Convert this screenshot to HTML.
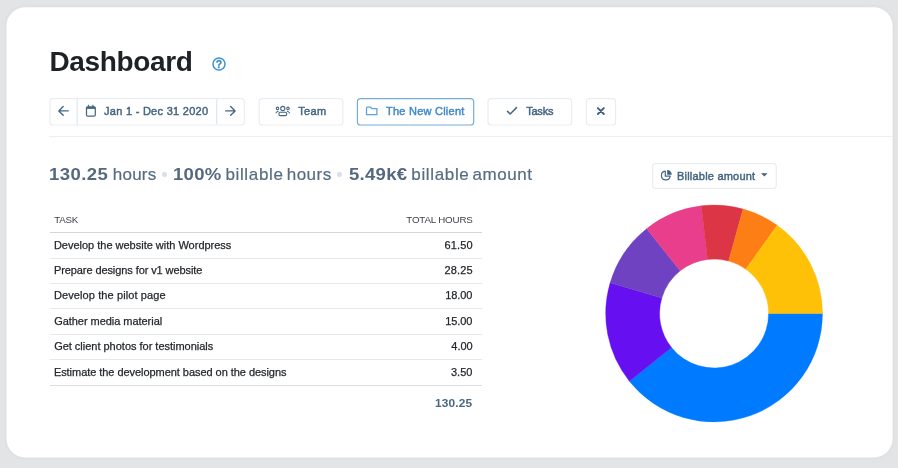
<!DOCTYPE html>
<html><head><meta charset="utf-8"><title>Dashboard</title>
<style>
*{box-sizing:border-box;margin:0;padding:0}
html,body{width:898px;height:468px;overflow:hidden}
body{background:#e3e4e6;font-family:"Liberation Sans",sans-serif;position:relative}
.abs{position:absolute}
.t{position:absolute;white-space:nowrap}
.hr{position:absolute;left:49px;top:136px;width:843.5px;height:1px;background:#eceef0}
.row{position:absolute;left:50px;width:432px;height:1px;background:#e7e8ea}
.dot{position:absolute;width:5.6px;height:5.6px;border-radius:50%;background:#d9e0e9;top:171.5px}
</style></head><body>
<svg class="abs" style="left:0;top:0" width="898" height="468" viewBox="0 0 898 468"><defs><filter id="cb" x="-5%" y="-5%" width="110%" height="110%"><feGaussianBlur stdDeviation="0.55"/></filter><filter id="cs" x="-5%" y="-5%" width="110%" height="110%"><feGaussianBlur stdDeviation="2"/></filter></defs><rect x="6" y="6.5" width="887" height="451.5" rx="19" fill="#000" opacity="0.035" filter="url(#cs)"/><rect x="6.5" y="7.3" width="886.1" height="450.1" rx="18.5" fill="#fff" filter="url(#cb)"/></svg>

<svg class="abs" style="left:210.8px;top:55.9px" width="16" height="16" viewBox="0 0 16 16"><circle cx="8" cy="8" r="6.05" fill="none" stroke="#4192cf" stroke-width="1.5"/><text x="8" y="11.7" font-family="Liberation Sans, sans-serif" font-size="10.5" font-weight="bold" fill="#3a8bc9" stroke="#3a8bc9" stroke-width="0.3" text-anchor="middle">?</text></svg>

<svg class="abs" style="left:0;top:0" width="898" height="200" viewBox="0 0 898 200" fill="#fff" stroke="#e9edf1" stroke-width="1.2">
<rect x="49.9" y="98.7" width="194.6" height="26.3" rx="3.3"/>
<path d="M77.2 99.3V124.4M216.7 99.3V124.4" stroke="#dde7f2" stroke-width="1.2" fill="none"/>
<rect x="259.2" y="98.7" width="83.7" height="26.3" rx="3.3"/>
<rect x="357.4" y="98.7" width="116.3" height="26.3" rx="3.3" stroke="#74add9" stroke-width="1.2"/>
<rect x="488" y="98.7" width="83.6" height="26.3" rx="3.3"/>
<rect x="586.4" y="98.7" width="29.2" height="26.3" rx="3.3"/>
<rect x="652.6" y="163.7" width="123.7" height="24.6" rx="3.3"/>
</svg>
<div class="hr"></div>

<div class="dot" style="left:161.9px"></div>
<div class="dot" style="left:336.6px"></div>

<div class="row" style="top:232px;background:#d4d6d9"></div>
<div class="row" style="top:258px"></div>
<div class="row" style="top:283px"></div>
<div class="row" style="top:308px"></div>
<div class="row" style="top:334px"></div>
<div class="row" style="top:359px"></div>
<div class="row" style="top:385px;background:#dcdee1"></div>


<svg class="abs" style="left:0;top:0" width="898" height="200" viewBox="0 0 898 200" fill="none" stroke-linecap="round" stroke-linejoin="round">
<!-- left arrow -->
<path d="M68.2 110.9H58.9M63.2 106.5L58.8 110.9L63.2 115.3" stroke="#466783" stroke-width="1.4"/>
<!-- right arrow -->
<path d="M225.7 110.9H235M230.7 106.5L235.1 110.9L230.7 115.3" stroke="#466783" stroke-width="1.4"/>
<!-- calendar -->
<rect x="86.5" y="106.9" width="8.8" height="9.3" rx="1.2" stroke="#466783" stroke-width="1.25"/>
<rect x="86.5" y="106.9" width="8.8" height="2" fill="#466783" stroke="none"/>
<path d="M88.5 105.3V107M92.9 105.3V107" stroke="#466783" stroke-width="1.3"/>
<!-- team -->
<g stroke="#466783" stroke-width="1.1">
<circle cx="282.8" cy="108.5" r="2.1"/>
<circle cx="277.5" cy="108.4" r="1.25"/>
<circle cx="288" cy="108.4" r="1.25"/>
<rect x="278.9" y="112.3" width="7.8" height="3.3" rx="1.3"/>
<path d="M276 112.9Q276.6 111.4 278.2 111.2M289.5 112.9Q288.9 111.4 287.3 111.2"/>
</g>
<!-- folder -->
<path d="M366.5 108.2V114.7H376.9V108.6H372L370.6 107.2H367.4Q366.5 107.2 366.5 108.2Z" stroke="#5ea4d8" stroke-width="1.3"/>
<!-- check -->
<path d="M507.5 111.4L510.2 114L516.5 107.6" stroke="#466783" stroke-width="1.5"/>
<!-- x -->
<path d="M597.9 108.1L603.8 114M603.8 108.1L597.9 114" stroke="#3f6280" stroke-width="1.9"/>
<!-- pie -->
<path d="M665.3 171.2A4.4 4.4 0 1 0 670.2 176.2H665.3Z" stroke="#466783" stroke-width="1.2"/>
<path d="M667.2 174.7V170.1A4.6 4.6 0 0 1 671.8 174.7Z" fill="#3f6280" stroke="none"/>
<!-- caret -->
<path d="M761 173.3H767.6L764.3 176.5Z" fill="#3f6280" stroke="none"/>
</svg>

<div class="t" style="left:49.53px;top:42.3px;font-size:28px;line-height:40px;letter-spacing:-0.375px;color:#1e2227;font-weight:bold">Dashboard</div>
<div class="t" style="left:104.01px;top:101.1px;font-size:11px;line-height:20px;letter-spacing:0.277px;color:#456581;-webkit-text-stroke:0.45px #456581">Jan 1 - Dec 31 2020</div>
<div class="t" style="left:298.16px;top:101.1px;font-size:11px;line-height:20px;letter-spacing:0.392px;color:#456581;-webkit-text-stroke:0.45px #456581">Team</div>
<div class="t" style="left:386.06px;top:101.1px;font-size:11px;line-height:20px;letter-spacing:0.234px;color:#4089c8;-webkit-text-stroke:0.45px #4089c8">The New Client</div>
<div class="t" style="left:526.16px;top:101.1px;font-size:11px;line-height:20px;letter-spacing:-0.2px;color:#456581;-webkit-text-stroke:0.45px #456581">Tasks</div>
<div class="t" style="left:676.98px;top:165.7px;font-size:11px;line-height:20px;letter-spacing:0.212px;color:#456581;-webkit-text-stroke:0.45px #456581">Billable amount</div>
<div class="t" style="left:49.41px;top:163px;font-size:17px;line-height:24px;letter-spacing:0.37px;color:#55697e;font-weight:bold;transform:scaleX(1.09);transform-origin:0 0">130.25</div>
<div class="t" style="left:112.85px;top:163px;font-size:17px;line-height:24px;letter-spacing:0.216px;color:#586c81;-webkit-text-stroke:0.2px #586c81">hours</div>
<div class="t" style="left:173.31px;top:163px;font-size:17px;line-height:24px;letter-spacing:0.237px;color:#55697e;font-weight:bold;transform:scaleX(1.09);transform-origin:0 0">100%</div>
<div class="t" style="left:225.38px;top:163px;font-size:17px;line-height:24px;letter-spacing:0.661px;color:#586c81;-webkit-text-stroke:0.2px #586c81">billable</div>
<div class="t" style="left:286.75px;top:163px;font-size:17px;line-height:24px;letter-spacing:0.468px;color:#586c81;-webkit-text-stroke:0.2px #586c81">hours</div>
<div class="t" style="left:348.54px;top:163px;font-size:17px;line-height:24px;letter-spacing:0.251px;color:#55697e;font-weight:bold;transform:scaleX(1.09);transform-origin:0 0">5.49k€</div>
<div class="t" style="left:411.28px;top:163px;font-size:17px;line-height:24px;letter-spacing:0.661px;color:#586c81;-webkit-text-stroke:0.2px #586c81">billable</div>
<div class="t" style="left:472.59px;top:163px;font-size:17px;line-height:24px;letter-spacing:0.53px;color:#586c81;-webkit-text-stroke:0.2px #586c81">amount</div>
<div class="t" style="left:54.17px;top:210px;font-size:9.75px;line-height:20px;letter-spacing:-0.227px;color:#3a3f45">TASK</div>
<div class="t" style="left:406.27px;top:210px;font-size:9.75px;line-height:20px;letter-spacing:-0.15px;color:#3a3f45">TOTAL HOURS</div>
<div class="t" style="left:53.89px;top:234.8px;font-size:11px;line-height:20px;letter-spacing:-0.007px;color:#24282d;-webkit-text-stroke:0.25px #24282d">Develop the website with Wordpress</div>
<div class="t" style="left:444.55px;top:234.8px;font-size:11px;line-height:20px;letter-spacing:0.129px;color:#24282d;-webkit-text-stroke:0.25px #24282d">61.50</div>
<div class="t" style="left:53.89px;top:260.1px;font-size:11px;line-height:20px;letter-spacing:-0.086px;color:#24282d;-webkit-text-stroke:0.25px #24282d">Prepare designs for v1 website</div>
<div class="t" style="left:444.57px;top:260.1px;font-size:11px;line-height:20px;letter-spacing:0.13px;color:#24282d;-webkit-text-stroke:0.25px #24282d">28.25</div>
<div class="t" style="left:53.89px;top:285.3px;font-size:11px;line-height:20px;letter-spacing:0.109px;color:#24282d;-webkit-text-stroke:0.25px #24282d">Develop the pilot page</div>
<div class="t" style="left:445.15px;top:285.3px;font-size:11px;line-height:20px;letter-spacing:-0.071px;color:#24282d;-webkit-text-stroke:0.25px #24282d">18.00</div>
<div class="t" style="left:54.15px;top:311px;font-size:11px;line-height:20px;letter-spacing:-0.04px;color:#24282d;-webkit-text-stroke:0.25px #24282d">Gather media material</div>
<div class="t" style="left:445.15px;top:311px;font-size:11px;line-height:20px;letter-spacing:-0.071px;color:#24282d;-webkit-text-stroke:0.25px #24282d">15.00</div>
<div class="t" style="left:54.15px;top:336.3px;font-size:11px;line-height:20px;letter-spacing:-0.013px;color:#24282d;-webkit-text-stroke:0.25px #24282d">Get client photos for testimonials</div>
<div class="t" style="left:451.33px;top:336.3px;font-size:11px;line-height:20px;letter-spacing:-0.036px;color:#24282d;-webkit-text-stroke:0.25px #24282d">4.00</div>
<div class="t" style="left:53.89px;top:361.7px;font-size:11px;line-height:20px;letter-spacing:-0.05px;color:#24282d;-webkit-text-stroke:0.25px #24282d">Estimate the development based on the designs</div>
<div class="t" style="left:451.01px;top:361.7px;font-size:11px;line-height:20px;letter-spacing:-0.023px;color:#24282d;-webkit-text-stroke:0.25px #24282d">3.50</div>
<div class="t" style="left:435.46px;top:393.1px;font-size:11px;line-height:20px;letter-spacing:0.155px;color:#4a6882;font-weight:bold;transform:scaleX(1.08);transform-origin:0 0">130.25</div>

<svg class="abs" style="left:600px;top:200px" width="230" height="230" viewBox="600 200 230 230">
<path fill="#007bff" stroke="#007bff" stroke-width="0.4" d="M822.50 313.50A108.4 108.4 0 0 1 629.38 381.13L671.51 347.50A54.5 54.5 0 0 0 768.60 313.50Z"/>
<path fill="#6610f2" stroke="#6610f2" stroke-width="0.4" d="M629.38 381.13A108.4 108.4 0 0 1 610.16 282.71L661.84 298.02A54.5 54.5 0 0 0 671.51 347.50Z"/>
<path fill="#6f42c1" stroke="#6f42c1" stroke-width="0.4" d="M610.16 282.71A108.4 108.4 0 0 1 646.62 228.67L680.17 270.85A54.5 54.5 0 0 0 661.84 298.02Z"/>
<path fill="#e83e8c" stroke="#e83e8c" stroke-width="0.4" d="M646.62 228.67A108.4 108.4 0 0 1 701.27 205.86L707.65 259.38A54.5 54.5 0 0 0 680.17 270.85Z"/>
<path fill="#dc3545" stroke="#dc3545" stroke-width="0.4" d="M701.27 205.86A108.4 108.4 0 0 1 743.07 209.04L728.66 260.98A54.5 54.5 0 0 0 707.65 259.38Z"/>
<path fill="#fd7e14" stroke="#fd7e14" stroke-width="0.4" d="M743.07 209.04A108.4 108.4 0 0 1 777.20 225.36L745.83 269.19A54.5 54.5 0 0 0 728.66 260.98Z"/>
<path fill="#ffc107" stroke="#ffc107" stroke-width="0.4" d="M777.20 225.36A108.4 108.4 0 0 1 822.50 313.50L768.60 313.50A54.5 54.5 0 0 0 745.83 269.19Z"/>
</svg>
</body></html>
